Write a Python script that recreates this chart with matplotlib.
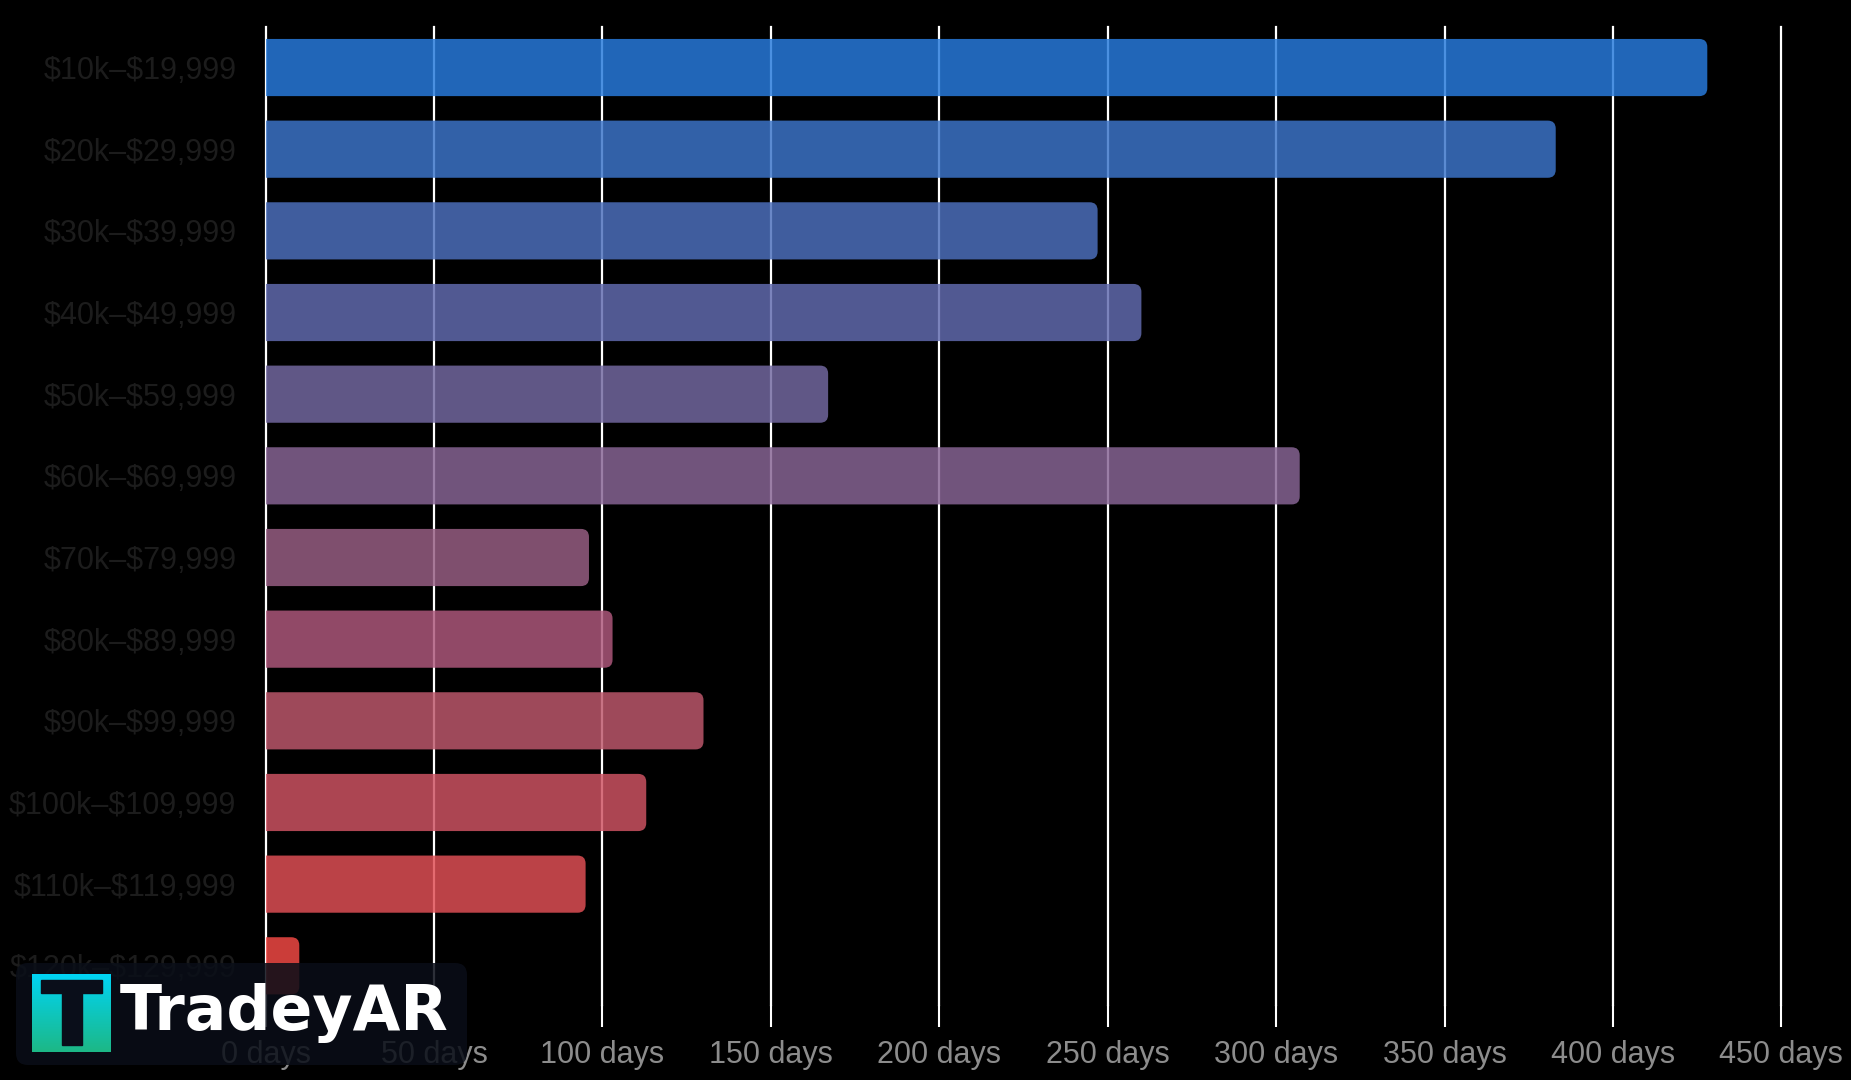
import matplotlib.pyplot as plt
import numpy as np
from matplotlib.patches import FancyBboxPatch, Rectangle
from matplotlib.colors import to_rgb

# data
categories = ["$10k–$19,999", "$20k–$29,999", "$30k–$39,999", "$40k–$49,999",
              "$50k–$59,999", "$60k–$69,999", "$70k–$79,999", "$80k–$89,999",
              "$90k–$99,999", "$100k–$109,999", "$110k–$119,999", "$120k–$129,999"]
days = [428, 383, 247, 260, 167, 307, 96, 103, 130, 113, 95, 10]
ticks = [0, 50, 100, 150, 200, 250, 300, 350, 400, 450]
tick_labels = [f"{t} days" for t in ticks]

# colours as they look on black (bars are drawn a bit transparent)
bar_colors = ["#2267B9", "#3262AA", "#415E9F", "#525A93", "#615887", "#72557D",
              "#80506F", "#924A68", "#A04A5B", "#AD4653", "#BC4247", "#CC3D3A"]
bar_alpha = 0.84

W, H = 1851, 1080
fig = plt.figure(figsize=(W / 100, H / 100), dpi=100, facecolor='black')
ax = fig.add_axes([265.6 / W, 75 / H, 1515.8 / W, 978.3 / H])
ax.set_facecolor('black')

y = np.arange(len(categories))
raw = [tuple(min(1, c / bar_alpha) for c in to_rgb(col)) for col in bar_colors]
bars = ax.barh(y, days, height=0.7, color=raw)

ax.set_xlim(0, 450)
ax.set_ylim(len(categories) - 0.52, -0.5)

# rounded right ends
xu = 450 / (ax.get_position().width * W)
yu = (len(categories) - 0.02) / (ax.get_position().height * H)
r_px = 8
for b, col in zip(bars, raw):
    x0, y0, w, h = b.get_x(), b.get_y(), b.get_width(), b.get_height()
    b.remove()
    p = FancyBboxPatch((x0 - r_px * xu, y0), w + r_px * xu, h,
                       boxstyle=f"round,pad=0,rounding_size={r_px * xu}",
                       mutation_aspect=yu / xu, facecolor=col, edgecolor='none',
                       alpha=bar_alpha, zorder=2)
    ax.add_patch(p)

ax.set_xticks(ticks)
ax.set_xticklabels(tick_labels)
ax.set_yticks(y)
ax.set_yticklabels([c.replace('$', r'\$') for c in categories])
ax.xaxis.grid(True, color='white', linewidth=1.6, zorder=0)
for gl in ax.get_xgridlines():
    gl.set_clip_on(False)
ax.set_axisbelow(True)
for s in ax.spines.values():
    s.set_visible(False)
ax.tick_params(axis='x', length=16, width=1.5, color='white', pad=9,
               labelsize=22, labelcolor='#8c8c8c')
ax.tick_params(axis='y', length=0, pad=21, labelsize=22, labelcolor='#1c1c1c')
for lab in ax.get_xticklabels() + ax.get_yticklabels():
    lab.set_fontfamily('Liberation Sans')

# watermark
box = FancyBboxPatch((16 / W, 15 / H), 451 / W, 102 / H,
                     boxstyle=f"round,pad=0,rounding_size={12 / W}",
                     mutation_aspect=W / H, transform=fig.transFigure,
                     facecolor='#0a0e18', edgecolor='none', alpha=0.86, zorder=2)
fig.add_artist(box)

logo = fig.add_axes([32 / W, 28 / H, 79 / W, 78 / H], zorder=3)
top, bot = np.array(to_rgb("#00D4F5")), np.array(to_rgb("#1DB886"))
grad = np.linspace(0, 1, 100)[:, None, None] * (bot - top) + top
logo.imshow(np.repeat(grad, 2, axis=1), aspect='auto', extent=(0, 1, 0, 1))
logo.add_patch(Rectangle((0.114, 0.756), 0.772, 0.167, color='#0a0e1a'))
logo.add_patch(Rectangle((0.38, 0.09), 0.253, 0.67, color='#0a0e1a'))
logo.set_xlim(0, 1)
logo.set_ylim(0, 1)
logo.axis('off')

fig.text(120 / W, 50 / H, "TradeyAR", fontsize=44.5, fontweight='bold',
         family='DejaVu Sans', color='white', va='baseline', zorder=4)

fig.savefig("out.png", dpi=100, facecolor='black')
